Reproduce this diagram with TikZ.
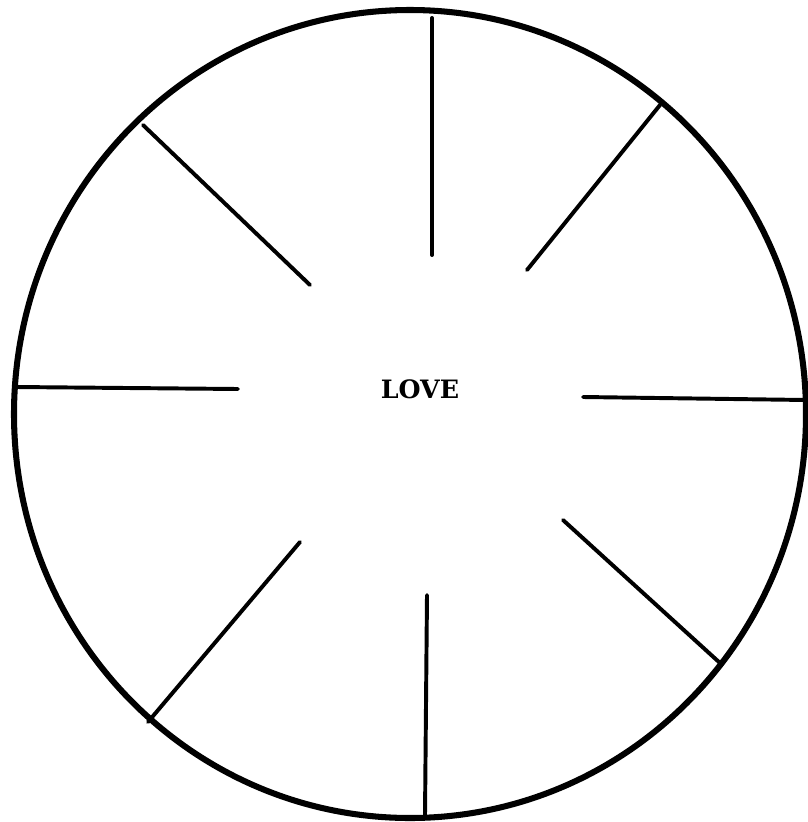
\documentclass[tikz,border=0pt]{standalone}
\usepackage{fontspec}
\newfontfamily\lovefont{DejaVu Serif}
\begin{document}
\begin{tikzpicture}[x=0.025cm,y=-0.025cm,line cap=round,
  rim/.style={line width=4.3pt},
  spoke/.style={line width=2.8pt}]
\useasboundingbox (0,0) rectangle (808,822);
\draw[rim] (410,414) ellipse[x radius=396,y radius=404];
% spokes: rim end / inner end
\foreach \ox/\oy/\ix/\iy in {432/18/432/255, 660/105/527/270, 806/400/583/397,
  720/663/563/520, 425/815/427/595, 148/722/300/542, 16/387/238/389, 143/125/310/285}
  \draw[spoke] (\ox,\oy) -- (\ix,\iy);
\node[font=\fontsize{18}{22}\selectfont\lovefont\bfseries] (love) at (420,389) {LOVE};
\end{tikzpicture}
\end{document}
